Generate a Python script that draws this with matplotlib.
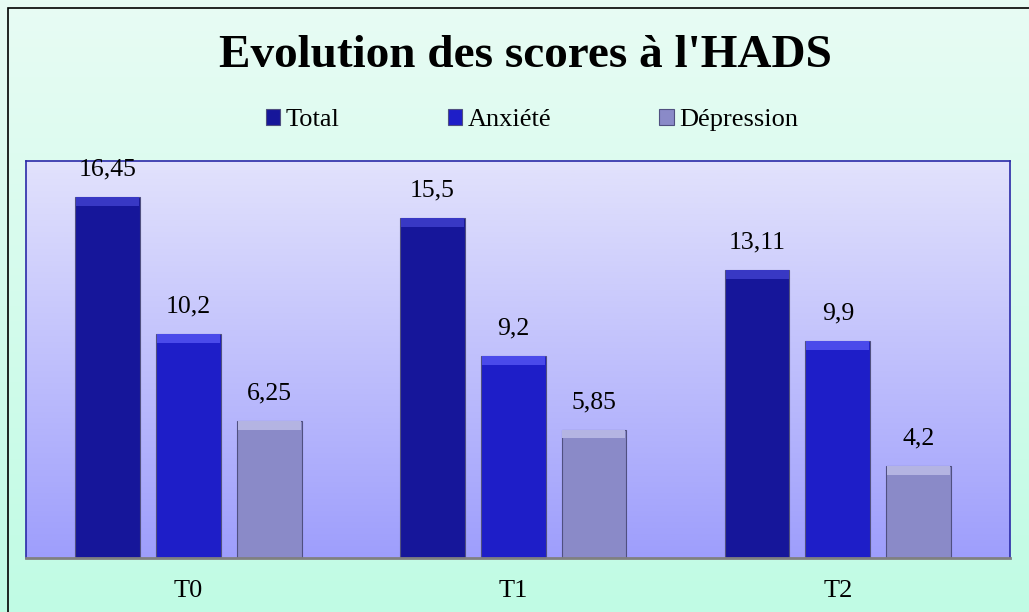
import numpy as np
import matplotlib.pyplot as plt
from matplotlib.colors import LinearSegmentedColormap
from matplotlib.patches import Rectangle

plt.rcParams['font.family'] = ['Liberation Serif', 'DejaVu Serif']

# data
periods = ['T0', 'T1', 'T2']
series = ['Total', 'Anxiété', 'Dépression']
total = [16.45, 15.5, 13.11]
anxiete = [10.2, 9.2, 9.9]
depression = [6.25, 5.85, 4.2]

colors = ['#16169a', '#1e1ec8', '#8a8ac8']
bevels = ['#3838c4', '#4a4aea', '#b4b4e2']

fig = plt.figure(figsize=(10.29, 6.12), dpi=100)

# figure background gradient
bg = fig.add_axes([0, 0, 1, 1], zorder=-2)
grad = np.linspace(0, 1, 256).reshape(-1, 1)
bg.imshow(grad, aspect='auto', extent=[0, 1, 0, 1], origin='lower',
          cmap=LinearSegmentedColormap.from_list('fbg', ['#c0fbe4', '#e8fcf4']))
bg.add_patch(Rectangle((8 / 1029, -0.01), 1.0, 1 - 8 / 612 + 0.01,
                       fill=False, edgecolor='black', lw=1.2))
bg.set_xlim(0, 1)
bg.set_ylim(0, 1)
bg.axis('off')

ax = fig.add_axes([26 / 1029, 1 - 558 / 612, 984 / 1029, 397 / 612])
ax.imshow(grad, aspect='auto', extent=[-0.5, 2.53, 0, 18.1], origin='lower',
          cmap=LinearSegmentedColormap.from_list('pbg', ['#9e9efc', '#e2e2fc']),
          zorder=0)

x = np.arange(len(periods))
width = 0.2
step = 0.249
bevel = 0.4
for i, vals in enumerate([total, anxiete, depression]):
    pos = x + (i - 1) * step
    ax.bar(pos, vals, width, color=colors[i], edgecolor='#505080', lw=0.8,
           zorder=2, label=series[i])
    ax.bar(pos, [bevel] * len(vals), width * 0.97,
           bottom=np.array(vals) - bevel, color=bevels[i], lw=0, zorder=3)
    for p, v in zip(pos, vals):
        ax.annotate(str(v).replace('.', ','), (p, v), xytext=(0, 12),
                    textcoords='offset points', ha='center', va='bottom',
                    fontsize=18.5)

ax.set_xlim(-0.5, 2.53)
ax.set_ylim(0, 18.1)
ax.set_xticks(x)
ax.set_xticklabels(periods, fontsize=19)
ax.tick_params(axis='x', length=0, pad=16)
ax.set_yticks([])
for s in ['top', 'left', 'right']:
    ax.spines[s].set_color('#2a2aa8')
    ax.spines[s].set_linewidth(1.2)
ax.spines['bottom'].set_color('#808080')
ax.spines['bottom'].set_linewidth(2)

fig.text(525 / 1029, 1 - 56 / 612, "Evolution des scores à l'HADS", ha='center',
         va='center', fontsize=34, fontweight='bold')

fig.legend(loc='center', bbox_to_anchor=(532 / 1029, 1 - 120 / 612), ncol=3,
           frameon=False, fontsize=19, handlelength=0.55, handleheight=0.6,
           handletextpad=0.2, columnspacing=4.1)

fig.savefig('out.png', dpi=100)
